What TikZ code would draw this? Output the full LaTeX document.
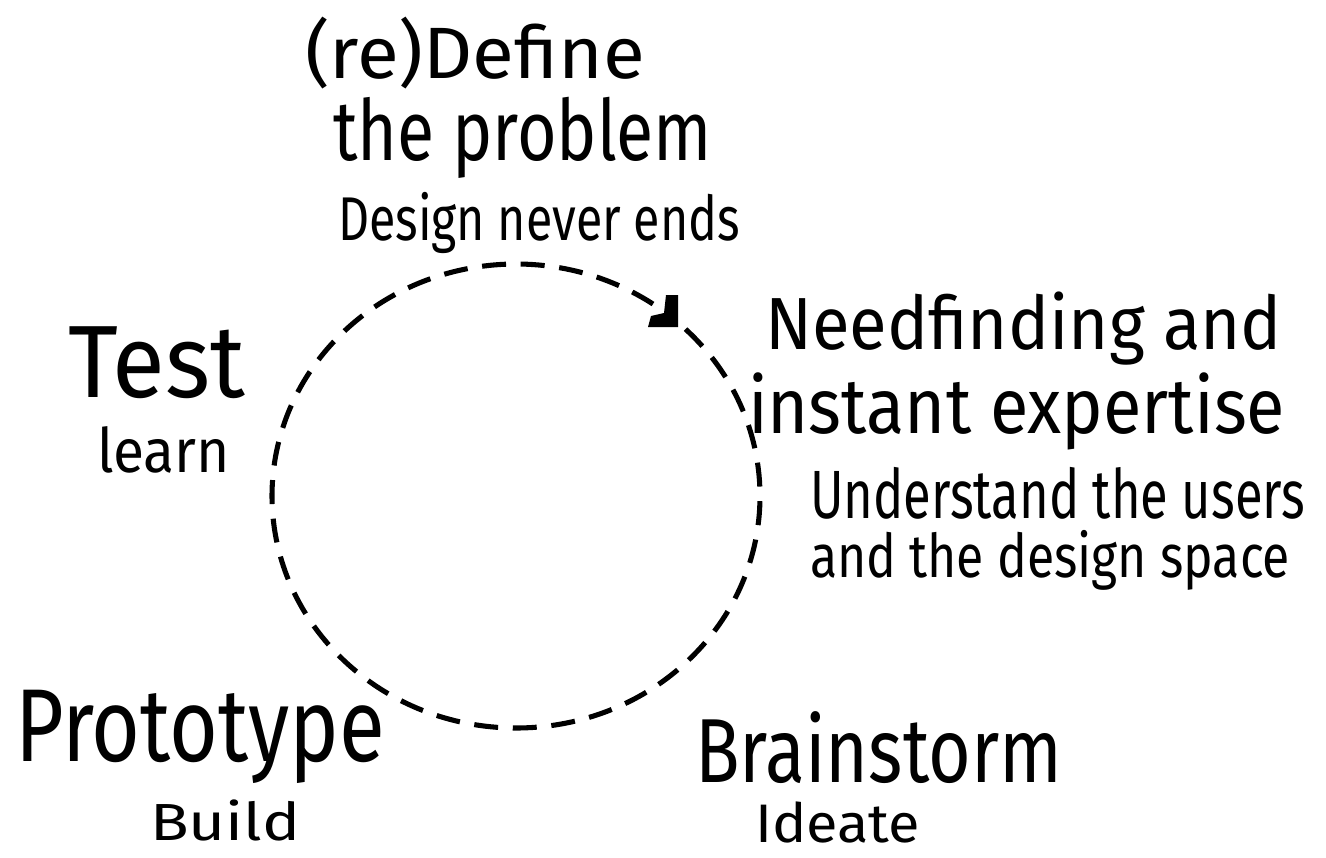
\documentclass[tikz,border=0pt]{standalone}
\usepackage{fontspec}
\setmainfont{Fira Sans}
\usepackage{graphicx}
\newcommand{\hwline}[3]{\resizebox*{#1pt}{#2pt}{#3}}
\begin{document}
\begin{tikzpicture}[x=0.75pt,y=0.75pt,
  lbl/.style={anchor=north west,inner sep=0pt,outer sep=0pt,text=black},
  cycleline/.style={line width=3.8pt,dash pattern=on 18pt off 11pt,black},
  headfill/.style={fill=black,draw=none}]
\useasboundingbox (0,0) rectangle (1326,-857);
% top: define
\node[lbl] (def1) at (305,-17) {\hwline{255}{54}{(re)Define}};
\node[lbl] (def2) at (333,-97) {\hwline{284.25}{61}{the problem}};
\node[lbl] (def3) at (338,-192) {\hwline{301.5}{46}{Design never ends}};
% right: needfinding
\node[lbl] (need1) at (765,-292) {\hwline{387.75}{55}{Needfinding and}};
\node[lbl] (need2) at (748,-373) {\hwline{402.75}{58}{instant expertise}};
\node[lbl] (need3) at (810,-467) {\hwline{371.25}{39}{Understand the users}};
\node[lbl] (need4) at (810,-530) {\hwline{360}{45}{and the design space}};
% left: test
\node[lbl] (test1) at (68,-327) {\hwline{132.75}{54}{Test}};
\node[lbl] (test2) at (97,-427) {\hwline{99.75}{35}{learn}};
% bottom left: prototype
\node[lbl] (proto1) at (15,-690) {\hwline{277.5}{70}{Prototype}};
\node[lbl] (proto2) at (150,-800) {\hwline{112.5}{31}{Build}};
% bottom right: brainstorm
\node[lbl] (brain1) at (695,-712) {\hwline{275.25}{54}{Brainstorm}};
\node[lbl] (brain2) at (755,-802) {\hwline{123.75}{31}{Ideate}};
% dashed cycle
\coordinate (cc) at (516,-496);
\draw[cycleline] ([shift={(46:244 and 232)}]cc) arc[start angle=46,end angle=-306,x radius=244,y radius=232];
% arrow head
\fill[headfill] (648,-327) -- (678,-327) -- (678,-295) -- (666,-295) -- (664,-313) -- (651,-316) -- cycle;
\end{tikzpicture}
\end{document}
